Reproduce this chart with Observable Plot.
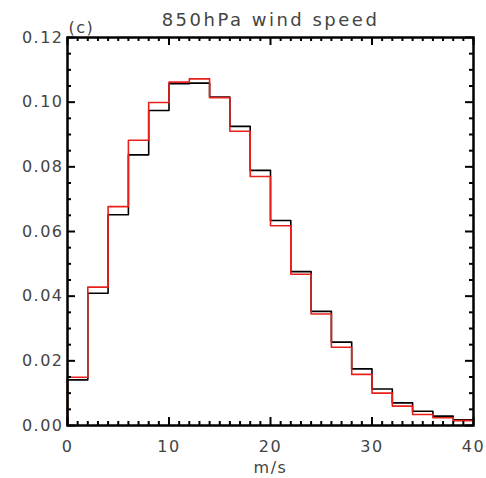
<!DOCTYPE html>
<html><head><meta charset="utf-8">
<script src="https://cdn.jsdelivr.net/npm/d3@7"></script>
<script src="https://cdn.jsdelivr.net/npm/@observablehq/plot@0.6"></script>
<style>body{margin:0;background:#fff} #chart svg{display:block;overflow:visible}</style>
</head><body><div id="chart"></div>
<script>
// Bin left edges (m/s), bin width 2
const binEdges = [0,2,4,6,8,10,12,14,16,18,20,22,24,26,28,30,32,34,36,38];
const binEnd = 40;
const seriesBlack = [0.0141,0.0409,0.0652,0.0837,0.0974,0.1057,0.1059,0.1016,0.0925,0.0789,0.0634,0.0476,0.0353,0.0258,0.0175,0.0113,0.0070,0.0044,0.0029,0.0018];
const seriesRed   = [0.0149,0.0428,0.0677,0.0882,0.0999,0.1062,0.1072,0.1014,0.0910,0.0770,0.0618,0.0468,0.0345,0.0242,0.0158,0.0100,0.0060,0.0034,0.0024,0.0015];
const xMajor = [0,10,20,30,40];
const xMinor = d3.range(0,41,1).filter(d => d % 10 !== 0);
const yMajor = [0,0.02,0.04,0.06,0.08,0.10,0.12];
const yMinor = d3.range(0,25,1).map(i => i*0.005).filter((d,i) => i % 4 !== 0);
const titleText = "850hPa wind speed";
const panelText = "(c)";
const xLabel = "m/s";

function stepPoints(vals){
  const pts = [{x: binEdges[0], y: 0}];
  binEdges.forEach((e,i) => pts.push({x: e, y: vals[i]}));
  pts.push({x: binEnd, y: vals[vals.length-1]});
  return pts;
}

const W=486, H=478, mL=67, mR=13, mT=37, mB=53;
const ph = H - mT - mB, pw = W - mL - mR;
const tickStyle = {stroke:"#000", strokeWidth:2};

const chart = Plot.plot({
  width: W, height: H,
  marginLeft: mL, marginRight: mR, marginTop: mT, marginBottom: mB,
  x: {domain: [0, 40]},
  y: {domain: [0, 0.12]},
  style: {fontFamily: "DejaVu Sans", fontSize: "16px", color: "#444", background: "#fff"},
  marks: [
    Plot.axisX(xMajor, {tickSize: 0, tickPadding: 15, tickFormat: d => String(d), label: null, fontSize: 16, fill: "#444"}),
    Plot.axisY(yMajor, {tickSize: 0, tickPadding: 4, tickFormat: d3.format(".2f"), label: null, fontSize: 16, fill: "#444"}),
    Plot.line(stepPoints(seriesBlack), {x: "x", y: "y", curve: "step-after", stroke: "#000", strokeWidth: 1.6}),
    Plot.line(stepPoints(seriesRed), {x: "x", y: "y", curve: "step-after", stroke: "#e8201c", strokeWidth: 1.6}),
    Plot.tickX(xMajor, {x: d => d, insetTop: ph - 8, ...tickStyle}),
    Plot.tickX(xMajor, {x: d => d, insetBottom: ph - 8, ...tickStyle}),
    Plot.tickX(xMinor, {x: d => d, insetTop: ph - 4, ...tickStyle}),
    Plot.tickX(xMinor, {x: d => d, insetBottom: ph - 4, ...tickStyle}),
    Plot.tickY(yMajor, {y: d => d, insetRight: pw - 8, ...tickStyle}),
    Plot.tickY(yMajor, {y: d => d, insetLeft: pw - 8, ...tickStyle}),
    Plot.tickY(yMinor, {y: d => d, insetRight: pw - 4, ...tickStyle}),
    Plot.tickY(yMinor, {y: d => d, insetLeft: pw - 4, ...tickStyle}),
    Plot.frame({stroke: "#000", strokeWidth: 2.5}),
    Plot.text([titleText], {frameAnchor: "top", lineAnchor: "middle", dy: -17, fontSize: 18, fill: "#444"}),
    Plot.text([panelText], {frameAnchor: "top-left", lineAnchor: "middle", textAnchor: "start", dx: 1, dy: -10, fontSize: 16, fill: "#444"}),
    Plot.text([xLabel], {frameAnchor: "bottom", lineAnchor: "middle", dy: 42, fontSize: 16, fill: "#444"})
  ]
});
document.getElementById("chart").appendChild(chart);
d3.select(chart).selectAll("text").style("letter-spacing", "1.5px");
d3.select(chart).selectAll("text").filter(function(){ return this.textContent === titleText; }).style("letter-spacing", "2.5px");
</script>
</body></html>
